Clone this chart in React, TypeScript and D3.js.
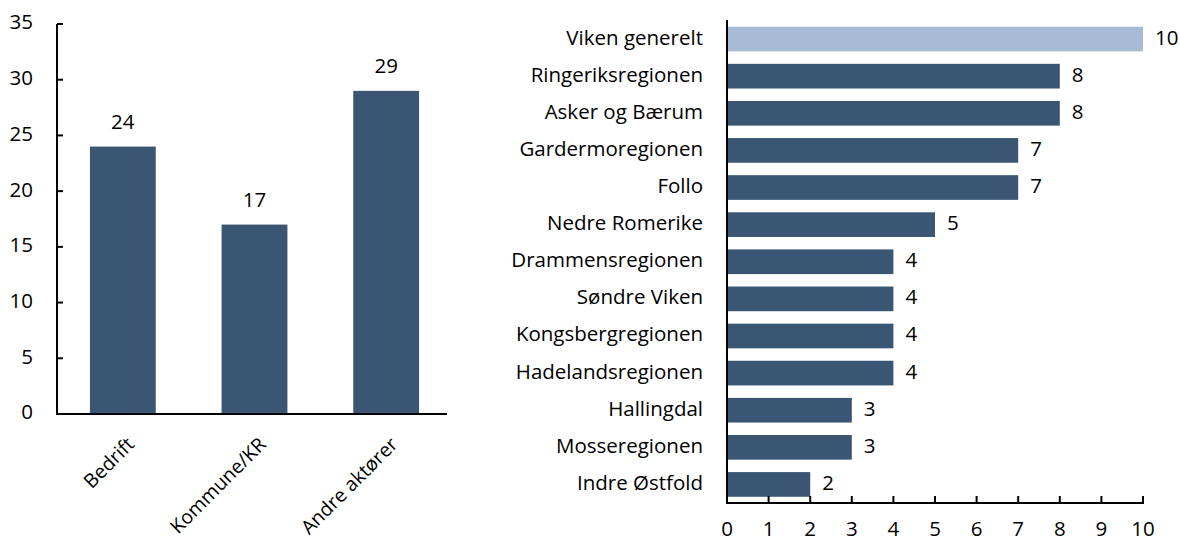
import React from 'react';
import * as d3 from 'd3';

// left chart
const actorCats = ['Bedrift', 'Kommune/KR', 'Andre aktører'];
const actorVals = [24, 17, 29];
const leftTicks = [0, 5, 10, 15, 20, 25, 30, 35];

// right chart
const regions = [
    'Viken generelt', 'Ringeriksregionen', 'Asker og Bærum', 'Gardermoregionen', 'Follo',
    'Nedre Romerike', 'Drammensregionen', 'Søndre Viken', 'Kongsbergregionen',
    'Hadelandsregionen', 'Hallingdal', 'Mosseregionen', 'Indre Østfold',
];
const regionVals = [10, 8, 8, 7, 7, 5, 4, 4, 4, 4, 3, 3, 2];
const rightTicks = [0, 1, 2, 3, 4, 5, 6, 7, 8, 9, 10];

const DARK = '#3b5673';
const LIGHT = '#a7bcd4';
const FONT = '"Open Sans", Lato, sans-serif';
const FS = 20.5;

const App = () => {
    // left scales
    const yL = d3.scaleLinear().domain([0, 35]).range([414, 24]);
    const xL = d3.scaleBand().domain(actorCats).range([57, 452]).paddingInner(0.5).paddingOuter(0.25);

    // right scales
    const xR = d3.scaleLinear().domain([0, 10]).range([727, 1143]);
    const yR = d3.scaleBand().domain(regions).range([20.5, 503]).paddingInner(0.335).paddingOuter(0.1675);

    return (
        <svg width={1180} height={542} style={{ display: 'block', position: 'absolute', left: 0, top: 0 }}
            fontFamily={FONT} fontSize={FS} fill="#000">
            <rect width={1180} height={542} fill="#fff" />

            {/* left chart */}
            {actorCats.map((c, i) => (
                <g key={c}>
                    <rect x={xL(c)} y={yL(actorVals[i])} width={xL.bandwidth()}
                        height={yL(0) - yL(actorVals[i])} fill={DARK} />
                    <text x={xL(c)! + xL.bandwidth() / 2} y={yL(actorVals[i]) - 18} textAnchor="middle">
                        {actorVals[i]}
                    </text>
                    <text transform={`translate(${xL(c)! + xL.bandwidth() / 2 + 9},${442}) rotate(-45)`}
                        textAnchor="end" dominantBaseline="middle" fontSize={19.5}>{c}</text>
                </g>
            ))}
            <line x1={57} x2={57} y1={yL(35)} y2={yL(0)} stroke="#000" strokeWidth={2} />
            <line x1={56} x2={447} y1={yL(0)} y2={yL(0)} stroke="#000" strokeWidth={2} />
            {leftTicks.map((t) => (
                <g key={t}>
                    <line x1={57} x2={63} y1={yL(t)} y2={yL(t)} stroke="#000" strokeWidth={2} />
                    <text x={33} y={yL(t)} textAnchor="end" dominantBaseline="middle">{t}</text>
                </g>
            ))}

            {/* right chart */}
            {regions.map((r, i) => (
                <g key={r}>
                    <rect x={xR(0)} y={yR(r)} width={xR(regionVals[i]) - xR(0)} height={yR.bandwidth()}
                        fill={i === 0 ? LIGHT : DARK} />
                    <text x={xR(regionVals[i]) + 12} y={yR(r)! + yR.bandwidth() / 2}
                        dominantBaseline="middle">{regionVals[i]}</text>
                    <text x={703} y={yR(r)! + yR.bandwidth() / 2} textAnchor="end"
                        dominantBaseline="middle">{r}</text>
                </g>
            ))}
            <line x1={xR(0)} x2={xR(0)} y1={20} y2={503} stroke="#000" strokeWidth={2} />
            <line x1={xR(0) - 1} x2={xR(10) + 1} y1={503} y2={503} stroke="#000" strokeWidth={2} />
            {rightTicks.map((t) => (
                <g key={t}>
                    <line x1={xR(t)} x2={xR(t)} y1={503} y2={496} stroke="#000" strokeWidth={2} />
                    <text x={xR(t)} y={531} textAnchor="middle" dominantBaseline="middle">{t}</text>
                </g>
            ))}
        </svg>
    );
};

export default App;
